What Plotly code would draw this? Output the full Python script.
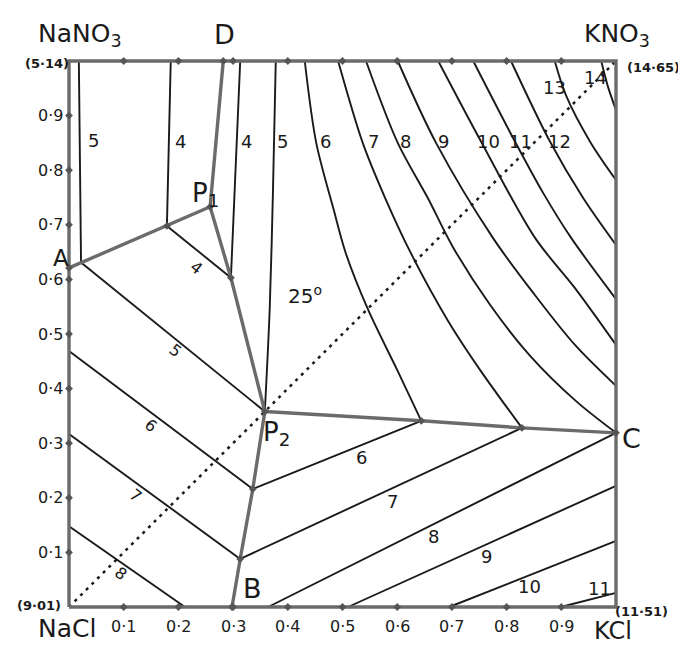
import plotly.graph_objects as go

# ---------------- data (fractions: x = KCl share, y = nitrate share) ----------------
TICK_VALUES = [0.1, 0.2, 0.3, 0.4, 0.5, 0.6, 0.7, 0.8, 0.9]
TICK_TEXT = ["0·1", "0·2", "0·3", "0·4", "0·5", "0·6", "0·7", "0·8", "0·9"]

BORDER_X = [0, 1, 1, 0, 0]
BORDER_Y = [0, 0, 1, 1, 0]

# saturation boundaries
A_P1_X = [0.0, 0.179, 0.258]
A_P1_Y = [0.621, 0.698, 0.733]
D_P1_X = [0.282, 0.258]
D_P1_Y = [1.0, 0.733]
P1_P2_X = [0.258, 0.296, 0.358]
P1_P2_Y = [0.733, 0.603, 0.358]
P2_B_X = [0.358, 0.336, 0.313, 0.298]
P2_B_Y = [0.358, 0.216, 0.088, 0.0]
P2_C_X = [0.358, 0.644, 0.828, 1.0]
P2_C_Y = [0.358, 0.341, 0.328, 0.319]
DIAG_X = [0.0, 1.0]
DIAG_Y = [0.0, 1.0]

# NaNO3 field isolines
NANO3_5_X = [0.018, 0.022]; NANO3_5_Y = [1.0, 0.631]
NANO3_4_X = [0.186, 0.179]; NANO3_4_Y = [1.0, 0.698]

# KNO3 field isolines
KNO3_4_X = [0.313, 0.296]; KNO3_4_Y = [1.0, 0.603]
KNO3_5_X = [0.378, 0.373, 0.367, 0.358]; KNO3_5_Y = [1.0, 0.767, 0.548, 0.358]
KNO3_6_X = [0.431, 0.452, 0.483, 0.506, 0.547, 0.601, 0.644]
KNO3_6_Y = [1.0, 0.850, 0.731, 0.648, 0.544, 0.432, 0.341]
KNO3_7_X = [0.492, 0.537, 0.578, 0.625, 0.693, 0.753, 0.828]
KNO3_7_Y = [1.0, 0.850, 0.749, 0.648, 0.524, 0.432, 0.328]
KNO3_8_X = [0.543, 0.601, 0.656, 0.702, 0.770, 0.843, 0.927, 1.0]
KNO3_8_Y = [1.0, 0.850, 0.749, 0.659, 0.553, 0.460, 0.377, 0.319]
KNO3_9_X = [0.601, 0.671, 0.775, 0.852, 0.925, 1.0]
KNO3_9_Y = [1.0, 0.850, 0.676, 0.571, 0.480, 0.405]
KNO3_10_X = [0.675, 0.753, 0.852, 0.925, 1.0]
KNO3_10_Y = [1.0, 0.853, 0.676, 0.584, 0.480]
KNO3_11_X = [0.739, 0.815, 0.867, 0.918, 1.0]
KNO3_11_Y = [1.0, 0.853, 0.758, 0.676, 0.564]
KNO3_12_X = [0.808, 0.879, 0.940, 1.0]
KNO3_12_Y = [1.0, 0.853, 0.749, 0.663]
KNO3_13_X = [0.888, 0.909, 0.954, 1.0]
KNO3_13_Y = [1.0, 0.936, 0.850, 0.782]
KNO3_14_X = [0.973, 0.985, 1.0]
KNO3_14_Y = [1.0, 0.954, 0.910]

# NaCl field isolines
NACL_4_X = [0.179, 0.296]; NACL_4_Y = [0.698, 0.603]
NACL_5_X = [0.022, 0.358]; NACL_5_Y = [0.631, 0.358]
NACL_6_X = [0.0, 0.336]; NACL_6_Y = [0.469, 0.216]
NACL_7_X = [0.0, 0.313]; NACL_7_Y = [0.317, 0.088]
NACL_8_X = [0.0, 0.212]; NACL_8_Y = [0.148, 0.0]

# KCl field isolines
KCL_6_X = [0.336, 0.644]; KCL_6_Y = [0.216, 0.341]
KCL_7_X = [0.313, 0.828]; KCL_7_Y = [0.088, 0.328]
KCL_8_X = [0.364, 1.0]; KCL_8_Y = [0.0, 0.319]
KCL_9_X = [0.510, 1.0]; KCL_9_Y = [0.0, 0.222]
KCL_10_X = [0.695, 1.0]; KCL_10_Y = [0.0, 0.121]
KCL_11_X = [0.899, 1.0]; KCL_11_Y = [0.0, 0.026]

# isoline labels
UP_LABELS = ["5", "4", "4", "5", "6", "7", "8", "9", "10", "11", "12", "13", "14"]
UP_LABEL_X = [0.044, 0.203, 0.325, 0.391, 0.468, 0.556, 0.616, 0.684, 0.766, 0.826, 0.896, 0.888, 0.962]
UP_LABEL_Y = [0.855, 0.853, 0.853, 0.853, 0.853, 0.853, 0.853, 0.853, 0.853, 0.853, 0.853, 0.951, 0.969]
NACL_LABELS = ["4", "5", "6", "7", "8"]
NACL_LABEL_X = [0.232, 0.194, 0.150, 0.122, 0.095]
NACL_LABEL_Y = [0.621, 0.469, 0.333, 0.205, 0.062]
KCL_LABELS = ["6", "7", "8", "9", "10", "11"]
KCL_LABEL_X = [0.534, 0.592, 0.667, 0.764, 0.841, 0.970]
KCL_LABEL_Y = [0.273, 0.194, 0.130, 0.093, 0.038, 0.033]

POINT_LABELS = ["A", "B", "C", "D", "P<sub>1</sub>", "P<sub>2</sub>"]
POINT_SIZES = [23, 27, 27, 27, 26, 26]
POINT_X = [-0.015, 0.336, 1.029, 0.285, 0.249, 0.380]
POINT_Y = [0.640, 0.033, 0.308, 1.049, 0.756, 0.317]

CORNER_NAMES = ["NaNO<sub>3</sub>", "KNO<sub>3</sub>", "NaCl", "KCl"]
CORNER_NAME_SIZES = [25, 25, 25, 24]
CORNER_NAME_X = [-0.060, 0.938, -0.060, 0.956]
CORNER_NAME_Y = [1.048, 1.048, -0.040, -0.044]
CORNER_VALUES = ["(5·14)", "(14·65)", "(9·01)", "(11·51)"]
CORNER_VALUE_X = [-0.040, 1.068, -0.055, 1.046]
CORNER_VALUE_Y = [0.996, 0.989, 0.002, -0.009]

JUNCTION_X = [0.0, 0.258, 0.358, 0.298, 1.0, 0.282, 0.179, 0.296, 0.336, 0.313, 0.644, 0.828]
JUNCTION_Y = [0.621, 0.733, 0.358, 0.0, 0.319, 1.0, 0.698, 0.603, 0.216, 0.088, 0.341, 0.328]

# ---------------- figure ----------------
FONT = "DejaVu Sans"
INK = "#1a1a1a"
GREY = "#6b6b6b"

fig = go.Figure()


def add_line(x, y, color=INK, width=1.9, shape="linear", dash="solid"):
    fig.add_trace(go.Scatter(
        x=x, y=y, mode="lines", cliponaxis=False, hoverinfo="skip", showlegend=False,
        line=dict(color=color, width=width, shape=shape, dash=dash, smoothing=0.9)))


add_line(DIAG_X, DIAG_Y, color=INK, width=2.5, dash="3px,5px")

for xs, ys in [(NANO3_5_X, NANO3_5_Y), (NANO3_4_X, NANO3_4_Y),
               (KNO3_4_X, KNO3_4_Y), (NACL_4_X, NACL_4_Y), (NACL_5_X, NACL_5_Y),
               (NACL_6_X, NACL_6_Y), (NACL_7_X, NACL_7_Y), (NACL_8_X, NACL_8_Y),
               (KCL_6_X, KCL_6_Y), (KCL_7_X, KCL_7_Y), (KCL_8_X, KCL_8_Y),
               (KCL_9_X, KCL_9_Y), (KCL_10_X, KCL_10_Y), (KCL_11_X, KCL_11_Y)]:
    add_line(xs, ys)

for xs, ys in [(KNO3_5_X, KNO3_5_Y), (KNO3_6_X, KNO3_6_Y), (KNO3_7_X, KNO3_7_Y),
               (KNO3_8_X, KNO3_8_Y), (KNO3_9_X, KNO3_9_Y), (KNO3_10_X, KNO3_10_Y),
               (KNO3_11_X, KNO3_11_Y), (KNO3_12_X, KNO3_12_Y), (KNO3_13_X, KNO3_13_Y),
               (KNO3_14_X, KNO3_14_Y)]:
    add_line(xs, ys, shape="spline")

for xs, ys in [(BORDER_X, BORDER_Y), (A_P1_X, A_P1_Y), (D_P1_X, D_P1_Y),
               (P1_P2_X, P1_P2_Y), (P2_B_X, P2_B_Y), (P2_C_X, P2_C_Y)]:
    add_line(xs, ys, color=GREY, width=3.4)

# tick diamonds on the edges and junction marks
tick_x = [0.0] * len(TICK_VALUES) + TICK_VALUES + TICK_VALUES
tick_y = TICK_VALUES + [0.0] * len(TICK_VALUES) + [1.0] * len(TICK_VALUES)
fig.add_trace(go.Scatter(x=tick_x + JUNCTION_X, y=tick_y + JUNCTION_Y, mode="markers",
                         cliponaxis=False, hoverinfo="skip", showlegend=False,
                         marker=dict(symbol="diamond", size=6, color="#555")))

ann = []


def label(text, x, y, size, angle=0, xanchor="center", yanchor="middle", xshift=0, yshift=0):
    ann.append(dict(text=text, x=x, y=y, xref="x", yref="y", showarrow=False,
                    font=dict(family=FONT, size=size, color=INK), textangle=angle,
                    xanchor=xanchor, yanchor=yanchor, xshift=xshift, yshift=yshift))


for v, t in zip(TICK_VALUES, TICK_TEXT):
    label(t, 0, v, 16, xanchor="right", xshift=-4)
    label(t, v, 0, 16, yanchor="top", yshift=-8)

for t, x, y in zip(UP_LABELS, UP_LABEL_X, UP_LABEL_Y):
    label(t, x, y, 18)
for t, x, y in zip(NACL_LABELS, NACL_LABEL_X, NACL_LABEL_Y):
    label(t, x, y, 16, angle=38)
for t, x, y in zip(KCL_LABELS, KCL_LABEL_X, KCL_LABEL_Y):
    label(t, x, y, 18)
for t, s, x, y in zip(POINT_LABELS, POINT_SIZES, POINT_X, POINT_Y):
    label(t, x, y, s)
for t, s, x, y in zip(CORNER_NAMES, CORNER_NAME_SIZES, CORNER_NAME_X, CORNER_NAME_Y):
    label(t, x, y, s, xanchor="left")
for t, x, y in zip(CORNER_VALUES, CORNER_VALUE_X, CORNER_VALUE_Y):
    label("<b>" + t + "</b>", x, y, 13)
label("25<sup>o</sup>", 0.431, 0.571, 20)

# The axes span the whole page so that every label lies inside the axis range;
# the unit square sits at pixels x 61..608, y 53..599.
W, H = 686, 646
SQ_LEFT, SQ_W = 61, 547
SQ_BOTTOM, SQ_H = 599, 546
fig.update_layout(
    width=W, height=H,
    margin=dict(l=0, r=0, t=0, b=0),
    paper_bgcolor="white", plot_bgcolor="white",
    annotations=ann,
    xaxis=dict(range=[-SQ_LEFT / SQ_W, (W - SQ_LEFT) / SQ_W], showgrid=False, zeroline=False,
               showticklabels=False, showline=False, ticks=""),
    yaxis=dict(range=[(SQ_BOTTOM - H) / SQ_H, SQ_BOTTOM / SQ_H], showgrid=False, zeroline=False,
               showticklabels=False, showline=False, ticks=""),
)

fig.write_html("out.html")
